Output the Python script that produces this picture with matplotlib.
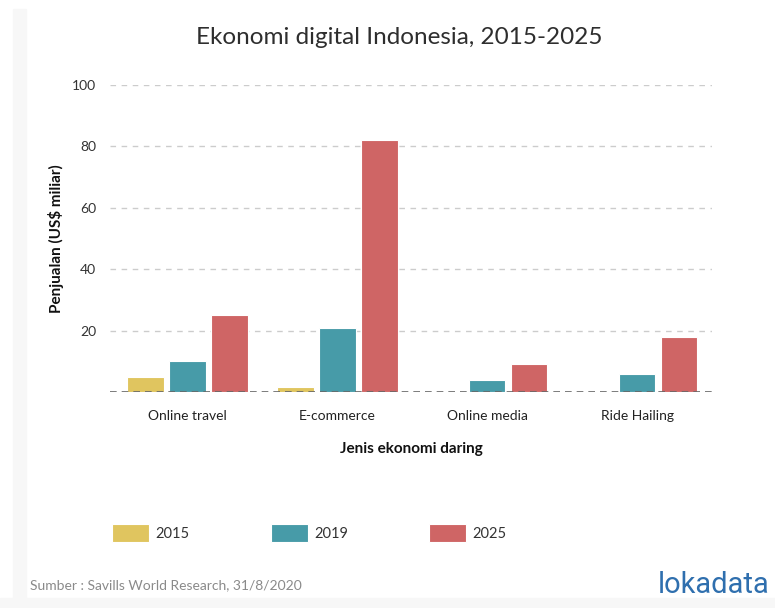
import matplotlib.pyplot as plt
import numpy as np
from matplotlib.patches import Rectangle

# Data
categories = ['Online travel', 'E-commerce', 'Online media', 'Ride Hailing']
years = ['2015', '2019', '2025']
sales_2015 = [5, 1.6, 0, 0]
sales_2019 = [10, 21, 4, 6]
sales_2025 = [25, 82, 9, 18]
yticks = [20, 40, 60, 80, 100]

colors = ['#e0c55f', '#479ba8', '#cf6565']
series = [sales_2015, sales_2019, sales_2025]

plt.rcParams['font.family'] = ['Lato', 'DejaVu Sans']

fig = plt.figure(figsize=(7.75, 6.08), dpi=100)
fig.patch.set_facecolor('white')

# faint grey frame strips, as in the screenshot
fig.add_artist(Rectangle((13 / 775, 0), 13 / 775, 1 - 9 / 608,
                         transform=fig.transFigure, color='#f7f7f7', zorder=0))
fig.add_artist(Rectangle((0, 0), 1, 10 / 608,
                         transform=fig.transFigure, color='#f7f7f7', zorder=0))

ax = fig.add_axes([110 / 775, 1 - 392 / 608, 602 / 775, 307 / 608])
ax.set_facecolor('none')

x = np.arange(len(categories))
width = 0.245
offset = 0.28
for i, (vals, c, yr) in enumerate(zip(series, colors, years)):
    ax.bar(x + (i - 1) * offset, vals, width, color=c, edgecolor='white',
           linewidth=0.8, label=yr, zorder=3)

ax.set_xlim(-0.515, 3.5)
ax.set_ylim(0, 100)
ax.set_yticks(yticks)
ax.set_yticklabels([str(t) for t in yticks], fontsize=10, color='#333333')
ax.set_xticks(x)
ax.set_xticklabels(categories, fontsize=10, color='#222222')
ax.tick_params(axis='y', length=0, pad=10)
ax.tick_params(axis='x', length=0, pad=13)

for t in yticks:
    ax.axhline(t, color='#cccccc', linestyle=(0, (4, 4)), linewidth=1, zorder=1)
ax.axhline(0, color='#666666', linestyle=(0, (4, 3)), linewidth=1.2, zorder=4)

for s in ax.spines.values():
    s.set_visible(False)

ax.set_ylabel('Penjualan (US$ miliar)', fontsize=11, fontweight='bold',
              color='#111111', labelpad=6)
ax.set_xlabel('Jenis ekonomi daring', fontsize=11, fontweight='bold',
              color='#111111', labelpad=14)

fig.text(399 / 775, 1 - 38 / 608, 'Ekonomi digital Indonesia, 2015-2025',
         ha='center', va='center', fontsize=17.5, color='#2e2e2e')

# legend drawn by hand to match the spread-out layout
leg_x = [112, 271, 429]
for lx, c, yr in zip(leg_x, colors, years):
    fig.add_artist(Rectangle((lx / 775, 1 - 542 / 608), 37 / 775, 18 / 608,
                             transform=fig.transFigure, facecolor=c,
                             edgecolor='white', linewidth=0.8))
    fig.text((lx + 43) / 775, 1 - 534 / 608, yr, ha='left', va='center',
             fontsize=10.5, color='#333333')

fig.text(30 / 775, 1 - 585 / 608, 'Sumber : Savills World Research, 31/8/2020',
         ha='left', va='center', fontsize=10, color='#8a8a8a')
fig.text(770 / 775, 1 - 585 / 608, 'lokadata', ha='right', va='center',
         fontsize=21, color='#2f6fae', family=['Roboto', 'DejaVu Sans'])

fig.savefig('out.png', dpi=100)
